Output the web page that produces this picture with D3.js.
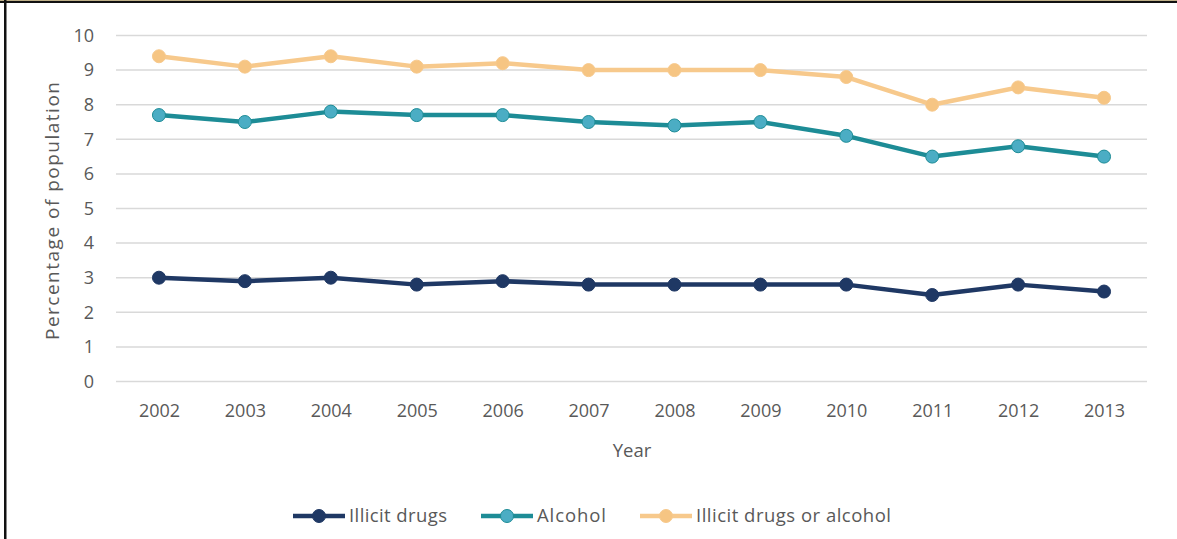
<!DOCTYPE html>
<html>
<head>
<meta charset="utf-8">
<script src="https://cdn.jsdelivr.net/npm/d3@7"></script>
<style>
  html, body { margin: 0; padding: 0; background: #fff; }
  svg { display: block; }
  text { font-family: "Open Sans", "Noto Sans", sans-serif; fill: #595959; }
</style>
</head>
<body>
<svg id="chart" width="1177" height="539"></svg>
<script>
// Survey years
const years = ["2002","2003","2004","2005","2006","2007","2008","2009","2010","2011","2012","2013"];

// Share of population (%) for each series
const illicitDrugs = [3.0, 2.9, 3.0, 2.8, 2.9, 2.8, 2.8, 2.8, 2.8, 2.5, 2.8, 2.6];
const alcohol      = [7.7, 7.5, 7.8, 7.7, 7.7, 7.5, 7.4, 7.5, 7.1, 6.5, 6.8, 6.5];
const eitherUse    = [9.4, 9.1, 9.4, 9.1, 9.2, 9.0, 9.0, 9.0, 8.8, 8.0, 8.5, 8.2];

const seriesNames = ["Illicit drugs", "Alcohol", "Illicit drugs or alcohol"];
const yTicks = [0, 1, 2, 3, 4, 5, 6, 7, 8, 9, 10];

const series = [
  { name: seriesNames[0], values: illicitDrugs, line: "#1f3864", fill: "#1f3864" },
  { name: seriesNames[1], values: alcohol,      line: "#1d8c96", fill: "#4badc4" },
  { name: seriesNames[2], values: eitherUse,    line: "#f7c98c", fill: "#f6c583" }
];

const svg = d3.select("#chart");

// frame edges
svg.append("rect").attr("x", 0).attr("y", 0).attr("width", 1177).attr("height", 1).attr("fill", "#bfb088");
svg.append("rect").attr("x", 0).attr("y", 1).attr("width", 1177).attr("height", 2).attr("fill", "#111");
svg.append("rect").attr("x", 4).attr("y", 0).attr("width", 2.5).attr("height", 539).attr("fill", "#111");

const plot = { left: 116, right: 1147, top: 35.5, bottom: 381.5 };

const x = d3.scalePoint().domain(years).range([plot.left, plot.right]).padding(0.5);
const y = d3.scaleLinear().domain([0, 10]).range([plot.bottom, plot.top]);

// horizontal gridlines
svg.append("g").selectAll("line").data(yTicks).join("line")
  .attr("x1", plot.left).attr("x2", plot.right)
  .attr("y1", d => y(d)).attr("y2", d => y(d))
  .attr("stroke", "#d9d9d9").attr("stroke-width", 1.5);

// y axis labels
const yAxis = svg.append("g").attr("transform", `translate(${plot.left - 22},0)`)
  .call(d3.axisLeft(y).tickValues(yTicks).tickSize(0).tickPadding(0));
yAxis.select(".domain").remove();
yAxis.selectAll("text").style("font-size", "18px").attr("fill", "#595959")
  .style("font-family", '"Open Sans", sans-serif');

// x axis labels
const xAxis = svg.append("g").attr("transform", `translate(0,${plot.bottom + 29})`)
  .call(d3.axisBottom(x).tickSize(0).tickPadding(0));
xAxis.select(".domain").remove();
xAxis.selectAll("text").style("font-size", "18px").attr("fill", "#595959")
  .attr("dy", "0.35em")
  .style("font-family", '"Open Sans", sans-serif');

// axis titles
svg.append("text")
  .attr("transform", "translate(52,211) rotate(-90)")
  .attr("text-anchor", "middle").attr("dy", "0.35em")
  .attr("textLength", 258).attr("lengthAdjust", "spacing")
  .style("font-size", "19px")
  .text("Percentage of population");

svg.append("text")
  .attr("x", 632).attr("y", 451).attr("dy", "0.35em")
  .attr("text-anchor", "middle")
  .style("font-size", "18.5px")
  .text("Year");

// series lines and markers
const line = d3.line().x((d, i) => x(years[i])).y(d => y(d));

series.forEach(s => {
  const g = svg.append("g");
  g.append("path").datum(s.values)
    .attr("d", line)
    .attr("fill", "none")
    .attr("stroke", s.line)
    .attr("stroke-width", 4.5)
    .attr("stroke-linejoin", "round");
  g.selectAll("circle").data(s.values).join("circle")
    .attr("cx", (d, i) => x(years[i]))
    .attr("cy", d => y(d))
    .attr("r", 6.5)
    .attr("fill", s.fill)
    .attr("stroke", s.line)
    .attr("stroke-width", 1);
});

// legend
const legendX = [293, 481, 640];
const legendTextWidth = [98, 69, 195];
const legend = svg.append("g").attr("transform", "translate(0,516)");
series.forEach((s, i) => {
  const g = legend.append("g").attr("transform", `translate(${legendX[i]},0)`);
  g.append("line").attr("x1", 0).attr("x2", 52).attr("y1", 0).attr("y2", 0)
    .attr("stroke", s.line).attr("stroke-width", 4.5);
  g.append("circle").attr("cx", 26).attr("cy", 0).attr("r", 6.5)
    .attr("fill", s.fill).attr("stroke", s.line).attr("stroke-width", 1);
  g.append("text").attr("x", 56).attr("y", 0).attr("dy", "0.35em")
    .attr("textLength", legendTextWidth[i]).attr("lengthAdjust", "spacing")
    .style("font-size", "18.5px")
    .text(s.name);
});
</script>
</body>
</html>
